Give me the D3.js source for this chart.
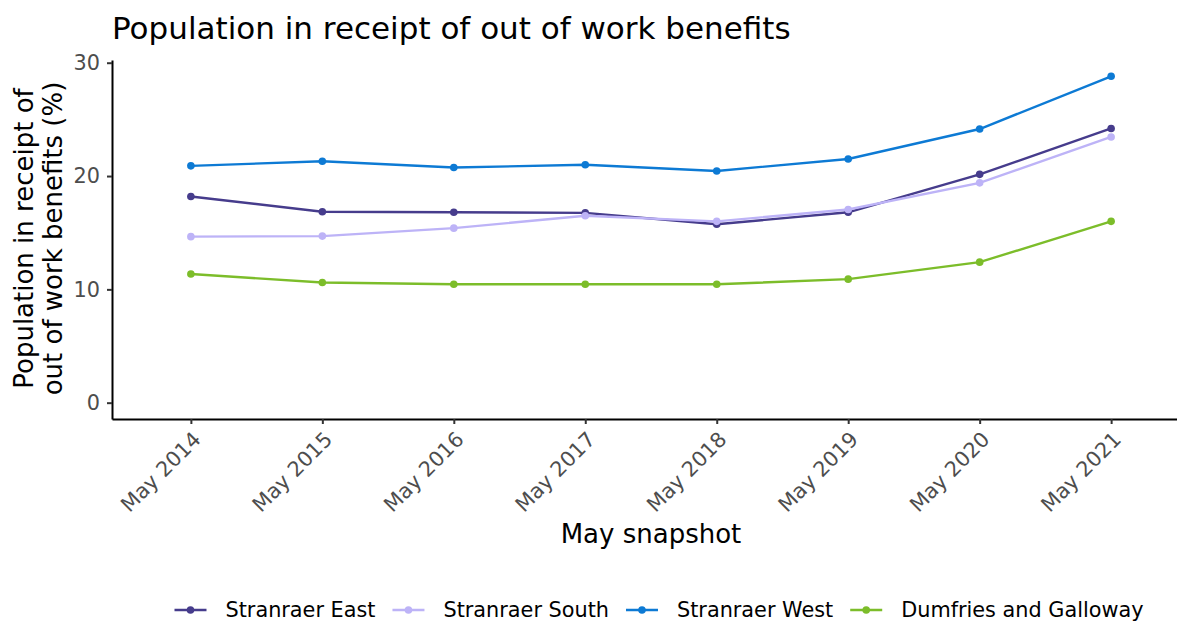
<!DOCTYPE html>
<html>
<head>
<meta charset="utf-8">
<script src="https://cdn.jsdelivr.net/npm/d3@7"></script>
<style>
  html, body { margin: 0; padding: 0; background: #fff; }
  svg { display: block; font-family: "DejaVu Sans", sans-serif; }
</style>
</head>
<body>
<svg id="chart" width="1177" height="621"></svg>
<script>
const categories = ["May 2014", "May 2015", "May 2016", "May 2017", "May 2018", "May 2019", "May 2020", "May 2021"];
const seriesNames = ["Stranraer East", "Stranraer South", "Stranraer West", "Dumfries and Galloway"];
const stranraerEast = [18.2, 16.85, 16.8, 16.75, 15.75, 16.8, 20.15, 24.2];
const stranraerSouth = [14.65, 14.7, 15.4, 16.5, 16.0, 17.05, 19.4, 23.45];
const stranraerWest = [20.9, 21.3, 20.75, 21.0, 20.45, 21.5, 24.15, 28.8];
const dumfriesGalloway = [11.35, 10.6, 10.45, 10.45, 10.45, 10.9, 12.4, 16.0];
const yTicks = [0, 10, 20, 30];
const colors = ["#463c8c", "#bdb3f7", "#0d7ad4", "#7cbd2a"];

const seriesValues = [stranraerEast, stranraerSouth, stranraerWest, dumfriesGalloway];
const series = seriesNames.map((name, i) => ({ name, color: colors[i], values: seriesValues[i] }));

const svg = d3.select("#chart");
const pLeft = 112, pRight = 1190, pTop = 60, pBottom = 419;

const x = d3.scalePoint().domain(categories).range([pLeft, pRight]).padding(0.6);
const yMax = d3.max(seriesValues.flat());
const y = d3.scaleLinear().domain([-yMax * 0.05, yMax * 1.05]).range([pBottom, pTop]);

// Title
svg.append("text").attr("x", 112).attr("y", 39)
  .attr("font-size", 31).attr("fill", "#000")
  .text("Population in receipt of out of work benefits");

// Y axis
const yAxis = svg.append("g").attr("transform", `translate(${pLeft},0)`)
  .call(d3.axisLeft(y).tickValues(yTicks).tickSize(5).tickPadding(7).tickSizeOuter(0));
yAxis.select(".domain").attr("stroke", "#000").attr("stroke-width", 2);
yAxis.selectAll(".tick line").attr("stroke", "#333").attr("stroke-width", 2);
yAxis.selectAll(".tick text").attr("font-size", 20.8).attr("fill", "#4d4d4d")
  .attr("font-family", "DejaVu Sans");

// X axis
const xAxis = svg.append("g").attr("transform", `translate(0,${pBottom})`)
  .call(d3.axisBottom(x).tickSize(5).tickSizeOuter(0));
xAxis.select(".domain").attr("stroke", "#000").attr("stroke-width", 2);
xAxis.selectAll(".tick line").attr("stroke", "#333").attr("stroke-width", 2);
xAxis.selectAll(".tick text")
  .attr("font-size", 20.8).attr("fill", "#4d4d4d").attr("font-family", "DejaVu Sans")
  .attr("text-anchor", "end").attr("dy", null).attr("y", 0)
  .attr("transform", "translate(0,11) rotate(-45)")
  .attr("dominant-baseline", "hanging");

// Axis titles
svg.append("text").attr("x", 651).attr("y", 543)
  .attr("text-anchor", "middle").attr("font-size", 26).attr("fill", "#000")
  .text("May snapshot");

const yTitle = svg.append("text").attr("transform", `translate(0,${(pTop + pBottom) / 2 - 1}) rotate(-90)`)
  .attr("text-anchor", "middle").attr("font-size", 26).attr("fill", "#000");
yTitle.append("tspan").attr("x", 0).attr("y", 32.5).text("Population in receipt of");
yTitle.append("tspan").attr("x", 0).attr("y", 62).text("out of work benefits (%)");

// Lines and points
const line = d3.line().x((d, i) => x(categories[i])).y(d => y(d));
const g = svg.append("g");
series.forEach(s => {
  g.append("path").datum(s.values).attr("d", line)
    .attr("fill", "none").attr("stroke", s.color).attr("stroke-width", 2.4);
  g.selectAll(null).data(s.values).enter().append("circle")
    .attr("cx", (d, i) => x(categories[i])).attr("cy", d => y(d)).attr("r", 3.8)
    .attr("fill", s.color);
});

// Legend
const legendY = 610;
const legend = svg.append("g");
const keyW = 32, keyGap = 19, itemGap = 17;
const items = [];
series.forEach(s => {
  const it = legend.append("g");
  it.append("line").attr("x1", 0).attr("x2", keyW).attr("y1", 0).attr("y2", 0)
    .attr("stroke", s.color).attr("stroke-width", 2.4);
  it.append("circle").attr("cx", keyW / 2).attr("cy", 0).attr("r", 3.8).attr("fill", s.color);
  const t = it.append("text").attr("x", keyW + keyGap).attr("y", 0).attr("dy", "0.35em")
    .attr("font-size", 20.8).attr("fill", "#000").text(s.name);
  items.push({ it, w: keyW + keyGap + t.node().getComputedTextLength() });
});
const totalW = d3.sum(items, d => d.w) + itemGap * (items.length - 1);
let lx = (175 + 1143) / 2 - totalW / 2;
items.forEach(d => {
  d.it.attr("transform", `translate(${lx},${legendY})`);
  lx += d.w + itemGap;
});
</script>
</body>
</html>
